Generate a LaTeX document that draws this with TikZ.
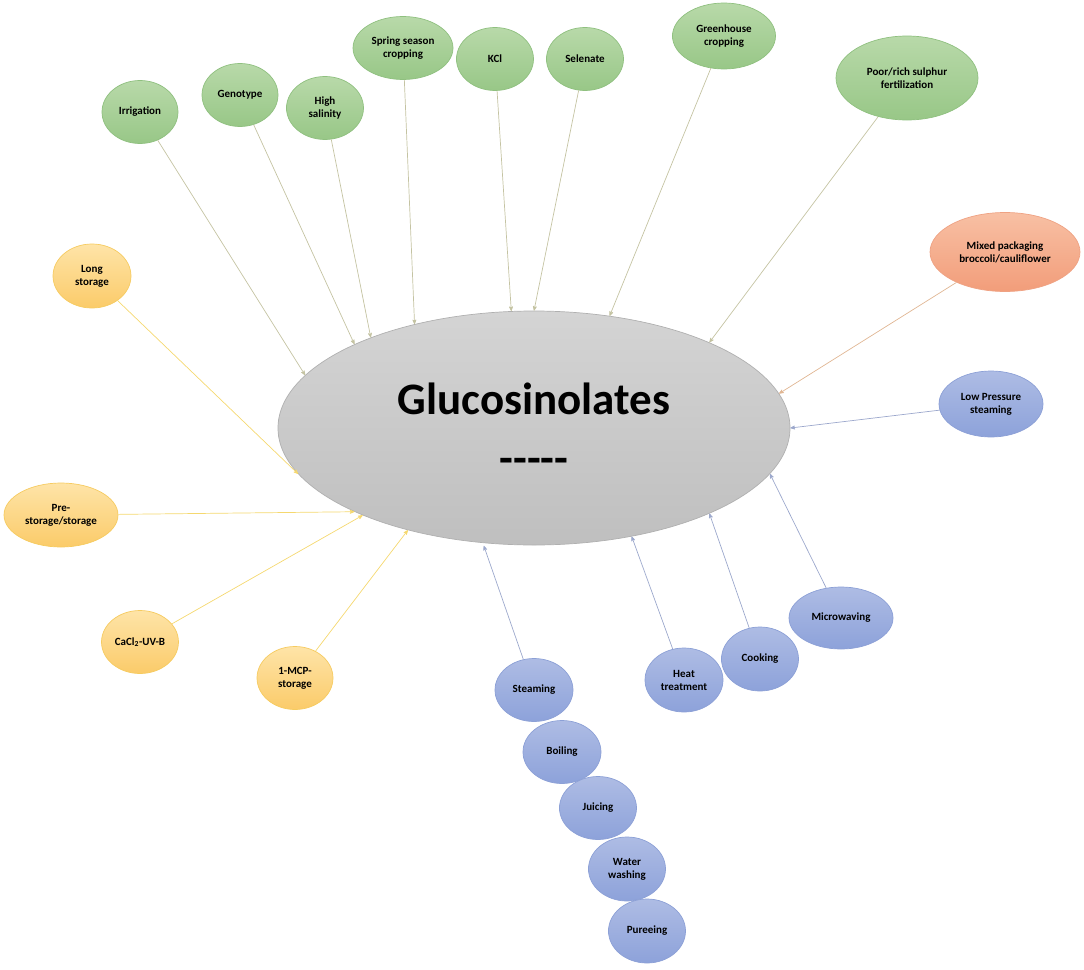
\documentclass[tikz,border=0pt]{standalone}
\usepackage{fontspec}
\setmainfont{Carlito}
\usepackage{tikz}
\usetikzlibrary{shapes.geometric, arrows}

\definecolor{leafTop}{HTML}{B8D9A9}
\definecolor{leafBot}{HTML}{98C787}
\definecolor{leafLine}{HTML}{8FC07F}
\definecolor{leafLink}{HTML}{C4C3A2}
\definecolor{sunTop}{HTML}{FEE4A8}
\definecolor{sunBot}{HTML}{FBCB69}
\definecolor{sunLine}{HTML}{F6CB60}
\definecolor{sunLink}{HTML}{F5D86F}
\definecolor{skyTop}{HTML}{AEBCE4}
\definecolor{skyBot}{HTML}{8DA2DA}
\definecolor{skyLine}{HTML}{8CA0D6}
\definecolor{skyLink}{HTML}{9CA8CC}
\definecolor{peachTop}{HTML}{F8C0A4}
\definecolor{peachBot}{HTML}{F29D7A}
\definecolor{peachLine}{HTML}{EFA283}
\definecolor{peachLink}{HTML}{E0B693}
\definecolor{hubTop}{HTML}{D4D4D4}
\definecolor{hubBot}{HTML}{BFBFBF}
\definecolor{hubLine}{HTML}{B0B0B0}

\begin{document}
\begin{tikzpicture}[x=1pt,y=-1pt,->,>=stealth',line width=0.7pt,factor/.style={ellipse,inner sep=0pt,align=center,font=\fontsize{11}{13}\selectfont\bfseries}]
\tikzstyle{field} = [factor, draw=leafLine, top color=leafTop, bottom color=leafBot]
\tikzstyle{store} = [factor, draw=sunLine, top color=sunTop, bottom color=sunBot]
\tikzstyle{cook} = [factor, draw=skyLine, top color=skyTop, bottom color=skyBot]
\tikzstyle{pack} = [factor, draw=peachLine, top color=peachTop, bottom color=peachBot]
\tikzstyle{hub} = [ellipse, inner sep=0pt, align=center, draw=hubLine, top color=hubTop, bottom color=hubBot, font=\fontsize{45}{48}\selectfont\bfseries]

\useasboundingbox (0,0) rectangle (1084,969);

\node (gl) at (534,428) [hub, minimum width=512, minimum height=234] {Glucosinolates\\[11pt]-{}-{}-{}-{}-};

% pre-harvest
\node (irr) at (140,112) [field, minimum width=76, minimum height=63] {Irrigation};
\node (geno) at (240,95) [field, minimum width=76, minimum height=63] {Genotype};
\node (salt) at (325,108) [field, minimum width=77, minimum height=63] {High\\salinity};
\node (spring) at (403,48) [field, minimum width=100, minimum height=63] {Spring season\\cropping};
\node (kcl) at (495,59) [field, minimum width=77, minimum height=63] {KCl};
\node (sel) at (585,59) [field, minimum width=77, minimum height=63] {Selenate};
\node (house) at (724,36) [field, minimum width=103, minimum height=66] {Greenhouse\\cropping};
\node (sulph) at (907,78) [field, minimum width=142, minimum height=84] {Poor/rich sulphur\\fertilization};

\node (mix) at (1005,252) [pack, minimum width=150, minimum height=79] {Mixed packaging\\broccoli/cauliflower};

% storage
\node (long) at (92,276) [store, minimum width=78, minimum height=64] {Long\\storage};
\node (pre) at (61,515) [store, minimum width=114, minimum height=64] {Pre-\\storage/storage};
\node (cacl) at (140,642) [store, minimum width=77, minimum height=63] {CaCl\textsubscript{2}-UV-B};
\node (mcp) at (295,678) [store, minimum width=76, minimum height=63] {1-MCP-\\storage};

% processing
\node (low) at (991,404) [cook, minimum width=104, minimum height=66] {Low Pressure\\steaming};
\node (micro) at (841,618) [cook, minimum width=104, minimum height=62] {Microwaving};
\node (boil2) at (760,659) [cook, minimum width=77, minimum height=64] {Cooking};
\node (heat) at (684,680) [cook, minimum width=78, minimum height=64] {Heat\\treatment};
\node (steam) at (534,690) [cook, minimum width=78, minimum height=63] {Steaming};
\node (boil) at (562,752) [cook, minimum width=78, minimum height=63] {Boiling};
\node (juice) at (598,808) [cook, minimum width=77, minimum height=63] {Juicing};
\node (wash) at (627,869) [cook, minimum width=77, minimum height=64] {Water\\washing};
\node (puree) at (647,931) [cook, minimum width=77, minimum height=64] {Pureeing};

\path[color=leafLink]
    (irr) edge (gl.167)
    (geno) edge (gl.155)
    (salt) edge (gl.151)
    (spring) edge (gl.139)
    (kcl) edge (gl.101)
    (sel) edge (gl.90)
    (house) edge (gl.56)
    (sulph) edge (gl.26);
\path[color=peachLink]
    (mix) edge (gl.8.5);
\path[color=sunLink]
    (long) edge (gl.191)
    (pre) edge (gl.205)
    (cacl) edge (gl.207.5)
    (mcp) edge (gl.219);
\path[color=skyLink]
    (low) edge (gl.0)
    (micro) edge (gl.-11)
    (boil2) edge (gl.-26.6)
    (heat) edge (gl.-48)
    (steam) edge [shorten >=3pt] (gl.-114);

\end{tikzpicture}
\end{document}
